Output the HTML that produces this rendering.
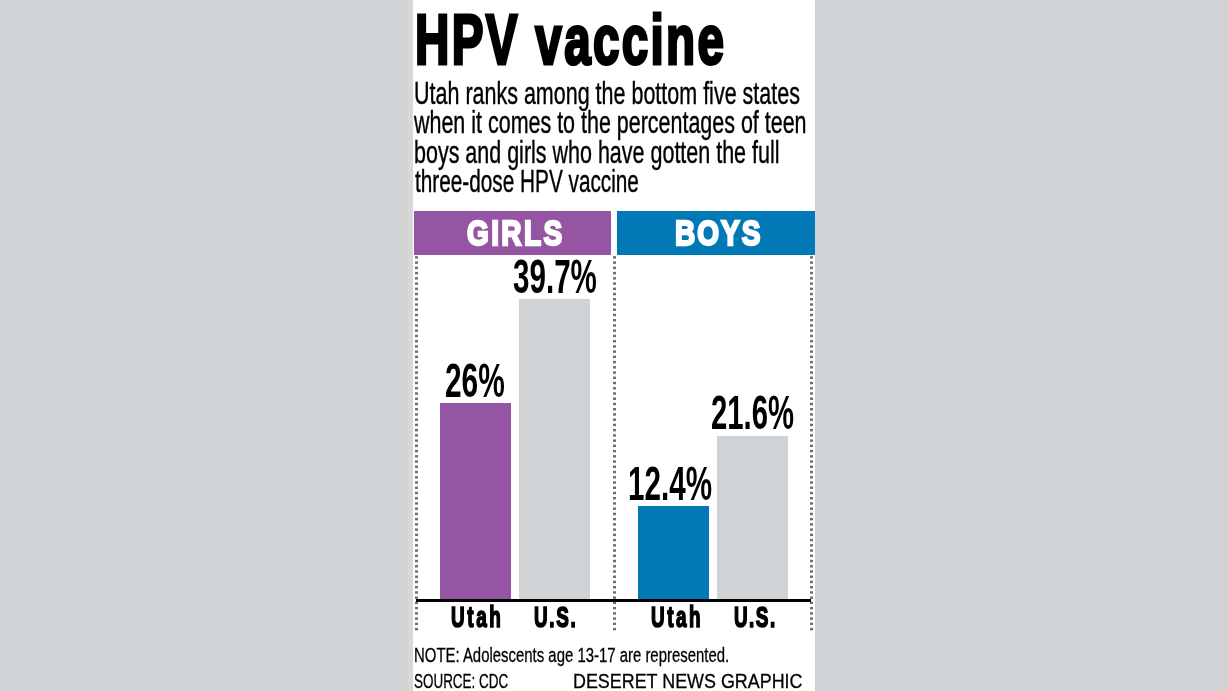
<!DOCTYPE html>
<html><head><meta charset="utf-8"><title>HPV vaccine</title>
<style>
html,body{margin:0;padding:0;}
body{width:1228px;height:691px;overflow:hidden;background:#cfd3d6;position:relative;font-family:"Liberation Sans", Arial, sans-serif;}
.panel{position:absolute;left:413px;top:0;width:402px;height:691px;background:#fff;}
.r{position:absolute;}
.t{position:absolute;white-space:nowrap;transform-origin:0 0;}
.dotsvg{position:absolute;left:0;top:0;}
</style></head><body>
<div class="panel"></div>
<svg class="dotsvg" width="1228" height="691" viewBox="0 0 1228 691"><g fill="#6e6e6e"><rect x="415" y="256.20" width="3" height="2.4"/><rect x="415" y="261.44" width="3" height="2.4"/><rect x="415" y="266.67" width="3" height="2.4"/><rect x="415" y="271.91" width="3" height="2.4"/><rect x="415" y="277.14" width="3" height="2.4"/><rect x="415" y="282.38" width="3" height="2.4"/><rect x="415" y="287.61" width="3" height="2.4"/><rect x="415" y="292.85" width="3" height="2.4"/><rect x="415" y="298.08" width="3" height="2.4"/><rect x="415" y="303.32" width="3" height="2.4"/><rect x="415" y="308.55" width="3" height="2.4"/><rect x="415" y="313.79" width="3" height="2.4"/><rect x="415" y="319.02" width="3" height="2.4"/><rect x="415" y="324.26" width="3" height="2.4"/><rect x="415" y="329.49" width="3" height="2.4"/><rect x="415" y="334.73" width="3" height="2.4"/><rect x="415" y="339.96" width="3" height="2.4"/><rect x="415" y="345.20" width="3" height="2.4"/><rect x="415" y="350.43" width="3" height="2.4"/><rect x="415" y="355.67" width="3" height="2.4"/><rect x="415" y="360.90" width="3" height="2.4"/><rect x="415" y="366.14" width="3" height="2.4"/><rect x="415" y="371.37" width="3" height="2.4"/><rect x="415" y="376.61" width="3" height="2.4"/><rect x="415" y="381.84" width="3" height="2.4"/><rect x="415" y="387.08" width="3" height="2.4"/><rect x="415" y="392.31" width="3" height="2.4"/><rect x="415" y="397.55" width="3" height="2.4"/><rect x="415" y="402.78" width="3" height="2.4"/><rect x="415" y="408.02" width="3" height="2.4"/><rect x="415" y="413.25" width="3" height="2.4"/><rect x="415" y="418.49" width="3" height="2.4"/><rect x="415" y="423.72" width="3" height="2.4"/><rect x="415" y="428.96" width="3" height="2.4"/><rect x="415" y="434.19" width="3" height="2.4"/><rect x="415" y="439.43" width="3" height="2.4"/><rect x="415" y="444.66" width="3" height="2.4"/><rect x="415" y="449.90" width="3" height="2.4"/><rect x="415" y="455.13" width="3" height="2.4"/><rect x="415" y="460.37" width="3" height="2.4"/><rect x="415" y="465.60" width="3" height="2.4"/><rect x="415" y="470.84" width="3" height="2.4"/><rect x="415" y="476.07" width="3" height="2.4"/><rect x="415" y="481.31" width="3" height="2.4"/><rect x="415" y="486.54" width="3" height="2.4"/><rect x="415" y="491.78" width="3" height="2.4"/><rect x="415" y="497.01" width="3" height="2.4"/><rect x="415" y="502.25" width="3" height="2.4"/><rect x="415" y="507.48" width="3" height="2.4"/><rect x="415" y="512.72" width="3" height="2.4"/><rect x="415" y="517.95" width="3" height="2.4"/><rect x="415" y="523.19" width="3" height="2.4"/><rect x="415" y="528.42" width="3" height="2.4"/><rect x="415" y="533.66" width="3" height="2.4"/><rect x="415" y="538.89" width="3" height="2.4"/><rect x="415" y="544.13" width="3" height="2.4"/><rect x="415" y="549.36" width="3" height="2.4"/><rect x="415" y="554.60" width="3" height="2.4"/><rect x="415" y="559.83" width="3" height="2.4"/><rect x="415" y="565.07" width="3" height="2.4"/><rect x="415" y="570.30" width="3" height="2.4"/><rect x="415" y="575.54" width="3" height="2.4"/><rect x="415" y="580.77" width="3" height="2.4"/><rect x="415" y="586.01" width="3" height="2.4"/><rect x="415" y="591.24" width="3" height="2.4"/><rect x="415" y="596.48" width="3" height="2.4"/><rect x="415" y="601.71" width="3" height="2.4"/><rect x="415" y="606.95" width="3" height="2.4"/><rect x="415" y="612.18" width="3" height="2.4"/><rect x="415" y="617.42" width="3" height="2.4"/><rect x="415" y="622.65" width="3" height="2.4"/><rect x="415" y="627.89" width="3" height="2.4"/><rect x="613" y="256.20" width="3" height="2.4"/><rect x="613" y="261.44" width="3" height="2.4"/><rect x="613" y="266.67" width="3" height="2.4"/><rect x="613" y="271.91" width="3" height="2.4"/><rect x="613" y="277.14" width="3" height="2.4"/><rect x="613" y="282.38" width="3" height="2.4"/><rect x="613" y="287.61" width="3" height="2.4"/><rect x="613" y="292.85" width="3" height="2.4"/><rect x="613" y="298.08" width="3" height="2.4"/><rect x="613" y="303.32" width="3" height="2.4"/><rect x="613" y="308.55" width="3" height="2.4"/><rect x="613" y="313.79" width="3" height="2.4"/><rect x="613" y="319.02" width="3" height="2.4"/><rect x="613" y="324.26" width="3" height="2.4"/><rect x="613" y="329.49" width="3" height="2.4"/><rect x="613" y="334.73" width="3" height="2.4"/><rect x="613" y="339.96" width="3" height="2.4"/><rect x="613" y="345.20" width="3" height="2.4"/><rect x="613" y="350.43" width="3" height="2.4"/><rect x="613" y="355.67" width="3" height="2.4"/><rect x="613" y="360.90" width="3" height="2.4"/><rect x="613" y="366.14" width="3" height="2.4"/><rect x="613" y="371.37" width="3" height="2.4"/><rect x="613" y="376.61" width="3" height="2.4"/><rect x="613" y="381.84" width="3" height="2.4"/><rect x="613" y="387.08" width="3" height="2.4"/><rect x="613" y="392.31" width="3" height="2.4"/><rect x="613" y="397.55" width="3" height="2.4"/><rect x="613" y="402.78" width="3" height="2.4"/><rect x="613" y="408.02" width="3" height="2.4"/><rect x="613" y="413.25" width="3" height="2.4"/><rect x="613" y="418.49" width="3" height="2.4"/><rect x="613" y="423.72" width="3" height="2.4"/><rect x="613" y="428.96" width="3" height="2.4"/><rect x="613" y="434.19" width="3" height="2.4"/><rect x="613" y="439.43" width="3" height="2.4"/><rect x="613" y="444.66" width="3" height="2.4"/><rect x="613" y="449.90" width="3" height="2.4"/><rect x="613" y="455.13" width="3" height="2.4"/><rect x="613" y="460.37" width="3" height="2.4"/><rect x="613" y="465.60" width="3" height="2.4"/><rect x="613" y="470.84" width="3" height="2.4"/><rect x="613" y="476.07" width="3" height="2.4"/><rect x="613" y="481.31" width="3" height="2.4"/><rect x="613" y="486.54" width="3" height="2.4"/><rect x="613" y="491.78" width="3" height="2.4"/><rect x="613" y="497.01" width="3" height="2.4"/><rect x="613" y="502.25" width="3" height="2.4"/><rect x="613" y="507.48" width="3" height="2.4"/><rect x="613" y="512.72" width="3" height="2.4"/><rect x="613" y="517.95" width="3" height="2.4"/><rect x="613" y="523.19" width="3" height="2.4"/><rect x="613" y="528.42" width="3" height="2.4"/><rect x="613" y="533.66" width="3" height="2.4"/><rect x="613" y="538.89" width="3" height="2.4"/><rect x="613" y="544.13" width="3" height="2.4"/><rect x="613" y="549.36" width="3" height="2.4"/><rect x="613" y="554.60" width="3" height="2.4"/><rect x="613" y="559.83" width="3" height="2.4"/><rect x="613" y="565.07" width="3" height="2.4"/><rect x="613" y="570.30" width="3" height="2.4"/><rect x="613" y="575.54" width="3" height="2.4"/><rect x="613" y="580.77" width="3" height="2.4"/><rect x="613" y="586.01" width="3" height="2.4"/><rect x="613" y="591.24" width="3" height="2.4"/><rect x="613" y="596.48" width="3" height="2.4"/><rect x="613" y="601.71" width="3" height="2.4"/><rect x="613" y="606.95" width="3" height="2.4"/><rect x="613" y="612.18" width="3" height="2.4"/><rect x="613" y="617.42" width="3" height="2.4"/><rect x="613" y="622.65" width="3" height="2.4"/><rect x="613" y="627.89" width="3" height="2.4"/><rect x="810" y="256.20" width="3" height="2.4"/><rect x="810" y="261.44" width="3" height="2.4"/><rect x="810" y="266.67" width="3" height="2.4"/><rect x="810" y="271.91" width="3" height="2.4"/><rect x="810" y="277.14" width="3" height="2.4"/><rect x="810" y="282.38" width="3" height="2.4"/><rect x="810" y="287.61" width="3" height="2.4"/><rect x="810" y="292.85" width="3" height="2.4"/><rect x="810" y="298.08" width="3" height="2.4"/><rect x="810" y="303.32" width="3" height="2.4"/><rect x="810" y="308.55" width="3" height="2.4"/><rect x="810" y="313.79" width="3" height="2.4"/><rect x="810" y="319.02" width="3" height="2.4"/><rect x="810" y="324.26" width="3" height="2.4"/><rect x="810" y="329.49" width="3" height="2.4"/><rect x="810" y="334.73" width="3" height="2.4"/><rect x="810" y="339.96" width="3" height="2.4"/><rect x="810" y="345.20" width="3" height="2.4"/><rect x="810" y="350.43" width="3" height="2.4"/><rect x="810" y="355.67" width="3" height="2.4"/><rect x="810" y="360.90" width="3" height="2.4"/><rect x="810" y="366.14" width="3" height="2.4"/><rect x="810" y="371.37" width="3" height="2.4"/><rect x="810" y="376.61" width="3" height="2.4"/><rect x="810" y="381.84" width="3" height="2.4"/><rect x="810" y="387.08" width="3" height="2.4"/><rect x="810" y="392.31" width="3" height="2.4"/><rect x="810" y="397.55" width="3" height="2.4"/><rect x="810" y="402.78" width="3" height="2.4"/><rect x="810" y="408.02" width="3" height="2.4"/><rect x="810" y="413.25" width="3" height="2.4"/><rect x="810" y="418.49" width="3" height="2.4"/><rect x="810" y="423.72" width="3" height="2.4"/><rect x="810" y="428.96" width="3" height="2.4"/><rect x="810" y="434.19" width="3" height="2.4"/><rect x="810" y="439.43" width="3" height="2.4"/><rect x="810" y="444.66" width="3" height="2.4"/><rect x="810" y="449.90" width="3" height="2.4"/><rect x="810" y="455.13" width="3" height="2.4"/><rect x="810" y="460.37" width="3" height="2.4"/><rect x="810" y="465.60" width="3" height="2.4"/><rect x="810" y="470.84" width="3" height="2.4"/><rect x="810" y="476.07" width="3" height="2.4"/><rect x="810" y="481.31" width="3" height="2.4"/><rect x="810" y="486.54" width="3" height="2.4"/><rect x="810" y="491.78" width="3" height="2.4"/><rect x="810" y="497.01" width="3" height="2.4"/><rect x="810" y="502.25" width="3" height="2.4"/><rect x="810" y="507.48" width="3" height="2.4"/><rect x="810" y="512.72" width="3" height="2.4"/><rect x="810" y="517.95" width="3" height="2.4"/><rect x="810" y="523.19" width="3" height="2.4"/><rect x="810" y="528.42" width="3" height="2.4"/><rect x="810" y="533.66" width="3" height="2.4"/><rect x="810" y="538.89" width="3" height="2.4"/><rect x="810" y="544.13" width="3" height="2.4"/><rect x="810" y="549.36" width="3" height="2.4"/><rect x="810" y="554.60" width="3" height="2.4"/><rect x="810" y="559.83" width="3" height="2.4"/><rect x="810" y="565.07" width="3" height="2.4"/><rect x="810" y="570.30" width="3" height="2.4"/><rect x="810" y="575.54" width="3" height="2.4"/><rect x="810" y="580.77" width="3" height="2.4"/><rect x="810" y="586.01" width="3" height="2.4"/><rect x="810" y="591.24" width="3" height="2.4"/><rect x="810" y="596.48" width="3" height="2.4"/><rect x="810" y="601.71" width="3" height="2.4"/><rect x="810" y="606.95" width="3" height="2.4"/><rect x="810" y="612.18" width="3" height="2.4"/><rect x="810" y="617.42" width="3" height="2.4"/><rect x="810" y="622.65" width="3" height="2.4"/><rect x="810" y="627.89" width="3" height="2.4"/></g></svg>
<div class="r" style="left:400px;top:0px;width:8px;height:691px;background:#d3d4d4;"></div><div class="r" style="left:408px;top:0px;width:5px;height:691px;background:#d7d8d8;"></div><div class="r" style="left:414px;top:211px;width:197px;height:44px;background:#9555a3;"></div><div class="r" style="left:617px;top:211px;width:198px;height:44px;background:#0079b6;"></div><div class="r" style="left:440px;top:403px;width:71px;height:197px;background:#9555a3;"></div><div class="r" style="left:519px;top:299px;width:71px;height:301px;background:#cfd3d6;"></div><div class="r" style="left:638px;top:506px;width:71px;height:94px;background:#0079b6;"></div><div class="r" style="left:717px;top:436px;width:71px;height:164px;background:#cfd3d6;"></div><div class="r" style="left:416px;top:599px;width:395px;height:3px;background:#000;"></div>
<div class="t" id="title" style="left:415.02px;top:3.98px;font-size:71px;line-height:71px;font-weight:700;color:#000;transform:scaleX(0.6700);letter-spacing:3.484px;-webkit-text-stroke:3.2px #000;">HPV vaccine</div><div class="t" id="s1" style="left:414.02px;top:77.95px;font-size:31px;line-height:31px;font-weight:400;color:#000;transform:scaleX(0.6934);-webkit-text-stroke:0.4px #000;">Utah ranks among the bottom five states</div><div class="t" id="s2" style="left:414.00px;top:107.25px;font-size:31px;line-height:31px;font-weight:400;color:#000;transform:scaleX(0.6923);-webkit-text-stroke:0.4px #000;">when it comes to the percentages of teen</div><div class="t" id="s3" style="left:414.01px;top:136.65px;font-size:31px;line-height:31px;font-weight:400;color:#000;transform:scaleX(0.6931);-webkit-text-stroke:0.4px #000;">boys and girls who have gotten the full</div><div class="t" id="s4" style="left:415.00px;top:165.95px;font-size:31px;line-height:31px;font-weight:400;color:#000;transform:scaleX(0.6698);-webkit-text-stroke:0.4px #000;">three-dose HPV vaccine</div><div class="t" id="girls" style="left:466.71px;top:215.94px;font-size:35.5px;line-height:35.5px;font-weight:700;color:#fff;transform:scaleX(0.7900);letter-spacing:2.973px;-webkit-text-stroke:2.4px #fff;">GIRLS</div><div class="t" id="boys" style="left:674.71px;top:215.94px;font-size:35.5px;line-height:35.5px;font-weight:700;color:#fff;transform:scaleX(0.7900);letter-spacing:2.54px;-webkit-text-stroke:2.4px #fff;">BOYS</div><div class="t" id="n397" style="left:512.96px;top:253.36px;font-size:48px;line-height:48px;font-weight:700;color:#000;transform:scaleX(0.6164);">39.7%</div><div class="t" id="n26" style="left:444.97px;top:357.36px;font-size:48px;line-height:48px;font-weight:700;color:#000;transform:scaleX(0.6220);">26%</div><div class="t" id="n124" style="left:627.88px;top:460.36px;font-size:48px;line-height:48px;font-weight:700;color:#000;transform:scaleX(0.6169);">12.4%</div><div class="t" id="n216" style="left:710.94px;top:389.36px;font-size:48px;line-height:48px;font-weight:700;color:#000;transform:scaleX(0.6099);">21.6%</div><div class="t" id="u1" style="left:450.79px;top:602.02px;font-size:29.5px;line-height:29.5px;font-weight:700;color:#000;transform:scaleX(0.6400);letter-spacing:4.093px;-webkit-text-stroke:1.7px #000;">Utah</div><div class="t" id="us1" style="left:533.88px;top:602.02px;font-size:29.5px;line-height:29.5px;font-weight:700;color:#000;transform:scaleX(0.6400);letter-spacing:2.556px;-webkit-text-stroke:1.7px #000;">U.S.</div><div class="t" id="u2" style="left:650.70px;top:602.02px;font-size:29.5px;line-height:29.5px;font-weight:700;color:#000;transform:scaleX(0.6400);letter-spacing:3.9px;-webkit-text-stroke:1.7px #000;">Utah</div><div class="t" id="us2" style="left:733.82px;top:602.02px;font-size:29.5px;line-height:29.5px;font-weight:700;color:#000;transform:scaleX(0.6400);letter-spacing:2.327px;-webkit-text-stroke:1.7px #000;">U.S.</div><div class="t" id="note" style="left:413.95px;top:644.64px;font-size:20.5px;line-height:20.5px;font-weight:400;color:#000;transform:scaleX(0.7278);-webkit-text-stroke:0.3px #000;">NOTE: Adolescents age 13-17 are represented.</div><div class="t" id="src" style="left:414.13px;top:670.64px;font-size:20.5px;line-height:20.5px;font-weight:400;color:#000;transform:scaleX(0.6561);-webkit-text-stroke:0.3px #000;">SOURCE: CDC</div><div class="t" id="dng" style="left:572.98px;top:671.44px;font-size:20.5px;line-height:20.5px;font-weight:400;color:#000;transform:scaleX(0.8733);-webkit-text-stroke:0.3px #000;">DESERET NEWS GRAPHIC</div>
</body></html>
